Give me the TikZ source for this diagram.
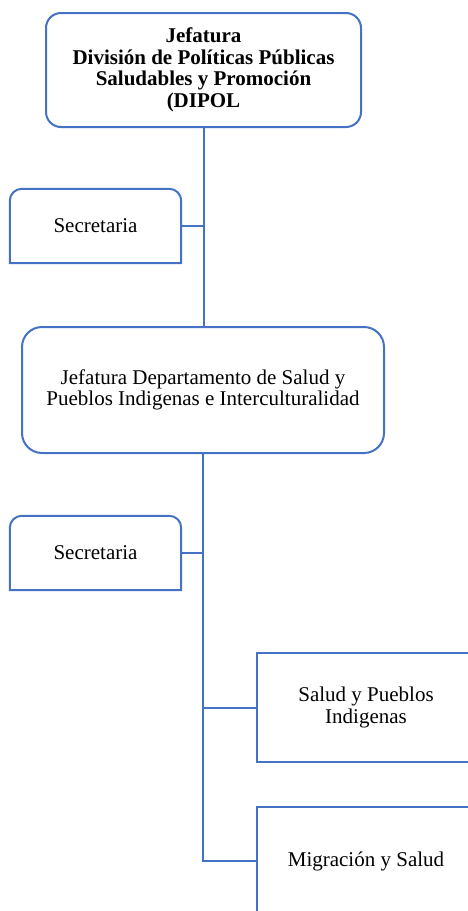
\documentclass[tikz,border=0pt]{standalone}
\usepackage{fontspec}
\setmainfont{Liberation Serif}
\usetikzlibrary{positioning,calc}
\definecolor{orgblue}{RGB}{68,114,196}
\tikzset{
  jefbox/.style={draw=orgblue,line width=2pt,rounded corners=#1,align=center,inner sep=0pt,
    font=\fontsize{21}{21.5}\selectfont},
  secbox/.style={align=center,inner sep=0pt,minimum width=171pt,minimum height=74pt,
    font=\fontsize{21}{21.5}\selectfont},
  unitbox/.style={draw=orgblue,line width=2pt,align=center,inner sep=0pt,minimum width=218pt,
    minimum height=#1,font=\fontsize{21}{21.5}\selectfont},
  link/.style={draw=orgblue,line width=2pt}
}
\begin{document}
\begin{tikzpicture}[x=1pt,y=-1pt]
  \useasboundingbox (0,0) rectangle (468,911);
  \clip (0,0) rectangle (468,911);

  % jefaturas
  \node[jefbox=15pt,minimum width=315pt,minimum height=114pt] (dipol) at (203.5,70)
    {\textbf{Jefatura}\\\textbf{División de Políticas Públicas}\\\textbf{Saludables y Promoción}\\\textbf{(DIPOL}};
  \node[jefbox=20pt,minimum width=362pt,minimum height=126pt] (dep) at (203,390)
    {Jefatura Departamento de Salud y\\Pueblos Indigenas e Interculturalidad};

  % secretarias
  \node[secbox] (sec1) at (95.5,226) {Secretaria};
  \node[secbox] (sec2) at (95.5,553) {Secretaria};
  \foreach \s in {sec1,sec2}
    \draw[link] (\s.south west) [rounded corners=12pt] -- (\s.north west) -- (\s.north east)
      [sharp corners] -- (\s.south east) -- cycle;

  % unidades
  \node[unitbox=109pt] (salud) at (366,707.5) {Salud y Pueblos\\Indigenas};
  \node[unitbox=108pt] (mig) at (366,861) {Migración y Salud};

  % conectores
  \draw[link] (dipol.south) -- (dipol.south |- dep.north);
  \draw[link] (sec1.east) -- (sec1.east -| dipol.south);
  \draw[link] (dep.south) -- (dep.south |- mig.west) -- (mig.west);
  \draw[link] (sec2.east) -- (sec2.east -| dep.south);
  \draw[link] (salud.west) -- (salud.west -| dep.south);
\end{tikzpicture}
\end{document}
